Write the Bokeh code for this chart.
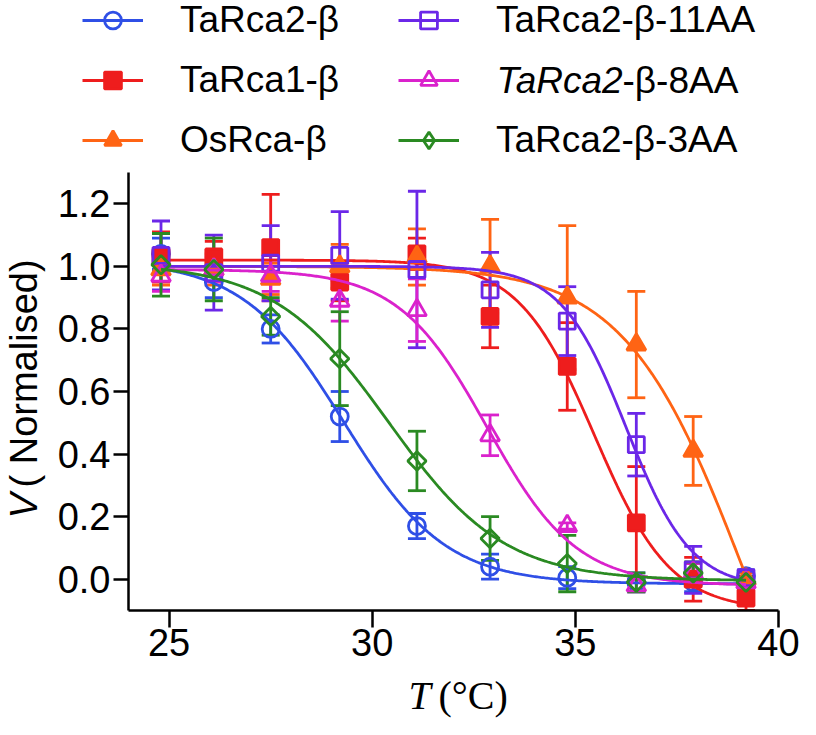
import numpy as np
from bokeh.plotting import figure
from bokeh.layouts import column, row
from bokeh.models import (ColumnDataSource, Whisker, TeeHead, Legend, LegendItem,
                          Label, Range1d, FixedTicker, PrintfTickFormatter)
from bokeh.embed import file_html
from bokeh.resources import INLINE

# ---------------- data ----------------
temps = [24.8, 26.1, 27.5, 29.2, 31.1, 32.9, 34.8, 36.5, 37.9, 39.2]

names = ["TaRca2-β", "TaRca1-β", "OsRca-β", "TaRca2-β-11AA", "TaRca2-β-8AA", "TaRca2-β-3AA"]

tarca2_b = [1.04, 0.95, 0.80, 0.52, 0.17, 0.04, 0.005, -0.01, -0.01, 0.01]
tarca2_b_err = [0.05, 0.05, 0.045, 0.08, 0.04, 0.04, 0.035, 0.03, 0.03, 0.02]

tarca1_b = [1.03, 1.03, 1.06, 0.95, 1.04, 0.84, 0.68, 0.18, 0.0, -0.06]
tarca1_b_err = [0.08, 0.05, 0.17, 0.06, 0.05, 0.10, 0.14, 0.18, 0.07, 0.04]

osrca_b = [0.99, 0.99, 0.96, 1.00, 1.03, 1.00, 0.90, 0.75, 0.41, 0.00]
osrca_b_err = [0.05, 0.05, 0.05, 0.07, 0.09, 0.15, 0.23, 0.17, 0.11, 0.02]

tarca2_b_11aa = [1.035, 0.98, 1.01, 1.035, 0.99, 0.925, 0.825, 0.43, 0.03, 0.005]
tarca2_b_11aa_err = [0.11, 0.12, 0.12, 0.14, 0.25, 0.12, 0.11, 0.10, 0.075, 0.02]

tarca2_b_8aa = [0.97, 0.99, 0.97, 0.89, 0.86, 0.46, 0.17, -0.02, 0.02, -0.01]
tarca2_b_8aa_err = [0.05, 0.04, 0.05, 0.065, 0.10, 0.065, 0.01, 0.02, 0.03, 0.02]

tarca2_b_3aa = [1.005, 0.99, 0.84, 0.705, 0.378, 0.13, 0.05, -0.01, 0.02, -0.01]
tarca2_b_3aa_err = [0.10, 0.10, 0.06, 0.15, 0.095, 0.07, 0.09, 0.03, 0.035, 0.02]

# fitted Boltzmann sigmoid parameters (top, bottom, T50, slope)
fit_top = [1.02, 1.02, 1.00, 1.00, 0.99, 1.01]
fit_bottom = [-0.015, -0.10, -1.00, -0.03, -0.02, -0.005]
fit_t50 = [29.3, 35.47, 39.23, 36.25, 32.83, 30.4]
fit_slope = [1.25, 0.94, 1.49, 0.80, 1.10, 1.42]

x_ticks = [25, 30, 35, 40]
y_ticks = [0.0, 0.2, 0.4, 0.6, 0.8, 1.0, 1.2]

values = [tarca2_b, tarca1_b, osrca_b, tarca2_b_11aa, tarca2_b_8aa, tarca2_b_3aa]
errors = [tarca2_b_err, tarca1_b_err, osrca_b_err, tarca2_b_11aa_err, tarca2_b_8aa_err, tarca2_b_3aa_err]

# ---------------- styles ----------------
colors = ["#2F4FE6", "#EE1D1D", "#FF6414", "#6B27E8", "#DA22CC", "#2A8A22"]
markers = ["circle", "square", "triangle", "square", "triangle", "square"]
legend_markers = ["circle", "square", "triangle", "square", "triangle", "diamond"]
sizes = [17, 16, 19, 16, 19, 13]
angles = [0, 0, 0, 0, 0, np.pi / 4]
filled = [False, True, True, False, False, False]

SANS = "Liberation Sans"
SERIF = "Liberation Serif"
LW = 2.8

# ---------------- main plot ----------------
p = figure(width=750, height=508,
           x_range=Range1d(24, 40), y_range=Range1d(-0.1, 1.3),
           output_backend="svg", toolbar_location=None,
           min_border_left=78, min_border_right=22,
           min_border_top=8, min_border_bottom=62)
p.grid.visible = False
p.outline_line_color = None

for ax in (p.xaxis[0], p.yaxis[0]):
    ax.axis_line_width = 2.5
    ax.axis_line_color = "black"
    ax.major_tick_line_width = 2.5
    ax.major_tick_line_color = "black"
    ax.major_tick_in = 0
    ax.minor_tick_line_color = None
    ax.major_label_text_font = SANS
    ax.major_label_text_font_size = "38px"
    ax.major_label_text_color = "black"

p.xaxis.ticker = FixedTicker(ticks=x_ticks)
p.xaxis.major_tick_out = 17
p.xaxis.major_label_standoff = 1
p.yaxis.ticker = FixedTicker(ticks=y_ticks)
p.yaxis.formatter = PrintfTickFormatter(format="%.1f")
p.yaxis.major_tick_out = 15
p.yaxis.major_label_standoff = 3

xs_fit = np.linspace(temps[0], temps[-1], 400)

for i in range(len(names)):
    c = colors[i]
    y = np.array(values[i])
    e = np.array(errors[i])
    src = ColumnDataSource(dict(x=temps, y=values[i], lo=y - e, hi=y + e))
    w = Whisker(source=src, base="x", lower="lo", upper="hi", dimension="height",
                line_color=c, line_width=LW,
                upper_head=TeeHead(size=18, line_color=c, line_width=LW),
                lower_head=TeeHead(size=18, line_color=c, line_width=LW))
    p.add_layout(w)

for i in range(len(names)):
    c = colors[i]
    fy = fit_bottom[i] + (fit_top[i] - fit_bottom[i]) / (1 + np.exp((xs_fit - fit_t50[i]) / fit_slope[i]))
    p.line(xs_fit, fy, line_color=c, line_width=LW)
    src = ColumnDataSource(dict(x=temps, y=values[i]))
    p.scatter("x", "y", source=src, marker=markers[i], size=sizes[i], angle=angles[i],
              line_color=c, line_width=LW, fill_color=c if filled[i] else None)

# ---------------- legend panel (above) ----------------
# the series are re-drawn here only as legend keys; the ranges keep them out of view
LX0, LY0 = 1000, 1000
leg_fig = figure(width=800, height=164, x_range=Range1d(LX0, LX0 + 800), y_range=Range1d(LY0, LY0 + 164),
                 output_backend="svg", toolbar_location=None,
                 x_axis_location=None, y_axis_location=None, min_border=0)
leg_fig.grid.visible = False
leg_fig.outline_line_color = None

legend_labels = ["TaRca2-β", "TaRca1-β", "OsRca-β", "TaRca2-β-11AA", " ", "TaRca2-β-3AA"]
legend_items = []
for i in range(len(names)):
    c = colors[i]
    src = ColumnDataSource(dict(x=temps, y=values[i]))
    ln = leg_fig.line("x", "y", source=src, line_color=c, line_width=LW)
    sc = leg_fig.scatter("x", "y", source=src, marker=legend_markers[i],
                         line_color=c, line_width=LW, fill_color=c if filled[i] else None)
    legend_items.append(LegendItem(label=legend_labels[i], renderers=[ln, sc]))

leg_kw = dict(orientation="vertical", glyph_width=61, glyph_height=42, label_height=42,
              label_standoff=37, spacing=18, padding=0, margin=0,
              border_line_color=None, background_fill_alpha=0,
              label_text_font=SANS, label_text_font_size="37px", label_text_color="black")
leg_fig.add_layout(Legend(items=legend_items[:3], location=(82, 3), **leg_kw))
leg_fig.add_layout(Legend(items=legend_items[3:], location=(398, 3), **leg_kw))

# "TaRca2-β-8AA" key text: gene name in italics, as in the reference
leg_fig.add_layout(Label(x=LX0 + 496, y=LY0 + 84, text="TaRca2", text_font=SANS,
                         text_font_style="italic", text_font_size="37px", text_align="left",
                         text_baseline="middle", text_color="black"))
leg_fig.add_layout(Label(x=LX0 + 622, y=LY0 + 84, text="-β-8AA", text_font=SANS,
                         text_font_size="37px", text_align="left",
                         text_baseline="middle", text_color="black"))

# ---------------- y-axis title panel (left), shares the main y scale ----------------
ylab_fig = figure(width=50, height=508, x_range=Range1d(0, 50), y_range=p.y_range,
                  output_backend="svg", toolbar_location=None,
                  x_axis_location=None, y_axis_location=None, min_border=0)
ylab_fig.grid.visible = False
ylab_fig.outline_line_color = None
ylab_fig.add_layout(Label(x=23, y=0.194, text="V", angle=np.pi / 2, text_font=SANS,
                          text_font_style="italic", text_font_size="38px", text_align="left",
                          text_baseline="middle", text_color="black"))
ylab_fig.add_layout(Label(x=23, y=0.2932, text="( Normalised)", angle=np.pi / 2, text_font=SANS,
                          text_font_size="38px", text_align="left",
                          text_baseline="middle", text_color="black"))

# ---------------- x-axis title panel (below) ----------------
xlab_fig = figure(width=800, height=47, x_range=Range1d(0, 800), y_range=Range1d(47, 0),
                  output_backend="svg", toolbar_location=None,
                  x_axis_location=None, y_axis_location=None, min_border=0)
xlab_fig.grid.visible = False
xlab_fig.outline_line_color = None
xlab_fig.add_layout(Label(x=408, y=23, text="T", text_font=SERIF, text_font_style="italic",
                          text_font_size="40px", text_align="left", text_baseline="alphabetic",
                          text_color="black"))
xlab_fig.add_layout(Label(x=438, y=23, text="(°C)", text_font=SERIF,
                          text_font_size="40px", text_align="left", text_baseline="alphabetic",
                          text_color="black"))

layout = column(leg_fig, row(ylab_fig, p), xlab_fig)

open("out.html", "w").write(file_html(layout, INLINE))
